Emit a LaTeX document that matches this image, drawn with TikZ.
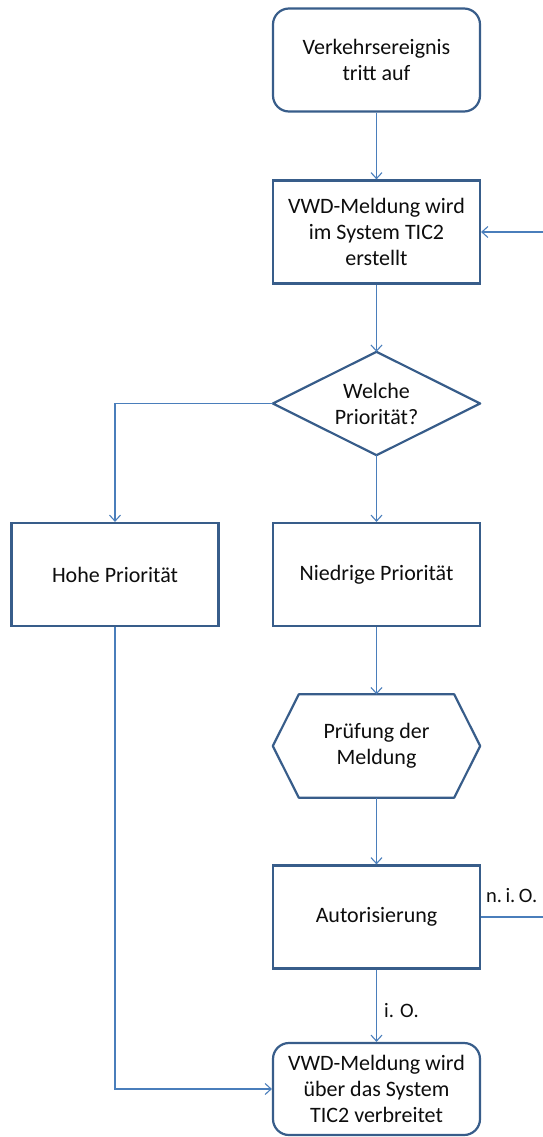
\documentclass[tikz,border=0pt]{standalone}
\usepackage{fontspec}
\setmainfont{Carlito}
\usetikzlibrary{arrows.meta,calc}
\definecolor{boxline}{HTML}{385D8A}
\definecolor{conn}{HTML}{4A7EBB}
\definecolor{ink}{HTML}{0D0D0D}
\begin{document}
\begin{tikzpicture}[x=1pt,y=-1pt,
  every node/.style={font=\fontsize{22}{26}\selectfont, text=ink},
  stepbox/.style={draw=boxline, line width=2.2pt, fill=white, minimum width=207pt,
    minimum height=103pt, align=center, inner sep=0pt},
  roundbox/.style={stepbox, rounded corners=16pt},
  area/.style={minimum width=207pt, minimum height=103pt, align=center, inner sep=0pt},
  outline/.style={draw=boxline, line width=2.2pt, line join=round},
  flow/.style={draw=conn, line width=1.1pt, -{Straight Barb[length=6pt,width=11pt]}},
  lbl/.style={inner sep=0pt, font=\fontsize{20.5}{24}\selectfont}
]
\useasboundingbox (0,0) rectangle (543,1137);

% process steps
\node[roundbox] (start) at (376.5,60) {Verkehrsereignis\\tritt auf};
\node[stepbox] (create) at (376.5,232) {VWD-Meldung wird\\im System TIC2\\erstellt};

% decision diamond drawn around its text area
\node[area] (prio) at (376.5,403.5) {Welche\\Priorität?};
\draw[outline] (prio.north) -- (prio.east) -- (prio.south) -- (prio.west) -- cycle;

\node[stepbox] (high) at (115,574.5) {Hohe Priorität};
\node[stepbox] (low) at (376.5,574.5) {Niedrige Priorität};

% preparation hexagon drawn around its text area
\node[area] (check) at (376.5,746) {Prüfung der\\Meldung};
\draw[outline]
  ($(check.north west)+(26,0)$) -- ($(check.north east)+(-26,0)$) -- (check.east)
  -- ($(check.south east)+(-26,0)$) -- ($(check.south west)+(26,0)$) -- (check.west) -- cycle;

\node[stepbox] (auth) at (376.5,917) {Autorisierung};
\node[roundbox, minimum height=92pt] (publish) at (376.5,1089) {VWD-Meldung wird\\über das System\\TIC2 verbreitet};

% connectors
\draw[flow] (start) -- (create);
\draw[flow] (create) -- (prio.north);
\draw[flow] (prio.west) -| (high.north);
\draw[flow] (prio.south) -- (low);
\draw[flow] (low) -- (check.north);
\draw[flow] (check.south) -- (auth);
\draw[flow] (auth) -- (publish);
\draw[flow] (high.south) |- (publish.west);
\coordinate (rightedge) at (547,917);
\draw[flow] (auth.east) -- (rightedge) |- (create.east);

% branch labels
\node[lbl, anchor=west] (nok) at (486,896) {n.\,i.\,O.};
\node[lbl, anchor=west] (ok) at (384,1011) {i. O.};
\end{tikzpicture}
\end{document}
